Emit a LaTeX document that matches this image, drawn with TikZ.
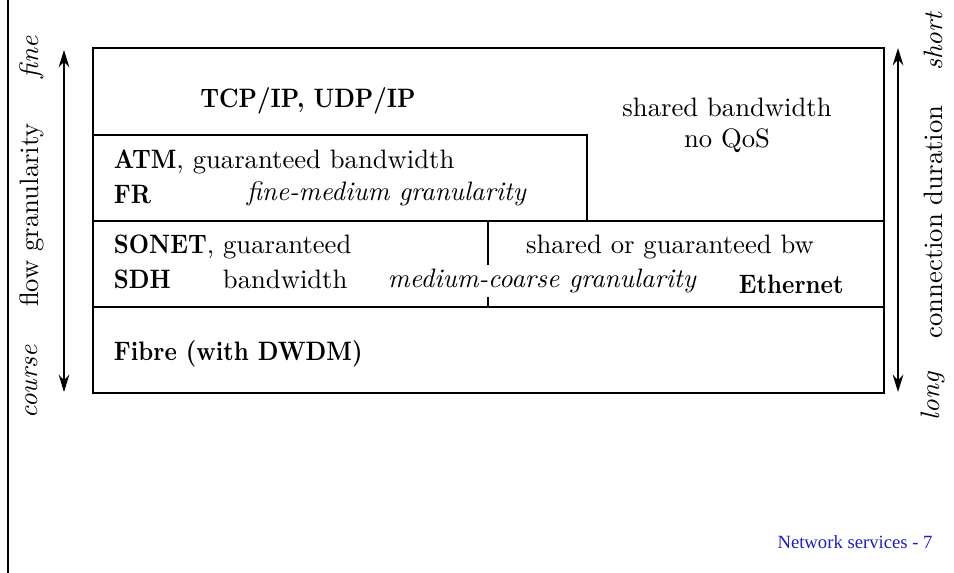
\documentclass[tikz,border=0pt]{standalone}
\usepackage{fontspec}
\usetikzlibrary{arrows.meta}
\newfontfamily\footfont{Liberation Serif}
\definecolor{footblue}{RGB}{30,30,190}
\newcommand\nb[1]{\scalebox{0.88}[1]{\textbf{#1}}}
\begin{document}
\begin{tikzpicture}[>={Stealth[length=6.5pt,width=4pt]}, x=0.375pt, y=-0.375pt, line width=0.7pt]
\tikzset{lbl/.style={anchor=west, inner sep=0pt}, side/.style={rotate=90, inner sep=0pt}}
\useasboundingbox (0,0) rectangle (954,573);
    \draw[line width=1.1pt](8,0)--(8,573);
    % layers
    \draw(93,48)rectangle(884,393);
    \draw(93,135)--(587,135)--(587,221);
    \draw(93,221)--(884,221);
    \draw(93,307)--(884,307);
    \draw(488,221)--(488,307);
    \node[inner sep=0pt](tcp) at (308,101){\nb{TCP/IP, UDP/IP}};
    \node[inner sep=0pt](shared) at (727,107){shared bandwidth};
    \node[inner sep=0pt](noqos) at (727,141){no QoS};
    \node[lbl](atm) at (113,162){\nb{ATM}, guaranteed bandwidth};
    \node[lbl](fr) at (113,194){\nb{FR}};
    \node[lbl](finemed) at (246,194){\emph{fine-medium granularity}};
    \node[lbl](sonet) at (113,247){\nb{SONET}, guaranteed};
    \node[lbl](sdh) at (113,279){\nb{SDH}};
    \node[lbl](bw) at (222,279){bandwidth};
    \node[lbl, fill=white, inner sep=1.5pt](medcoarse) at (383,281){\emph{medium-coarse granularity}};
    \node[inner sep=0pt](sharedbw) at (670,247){shared or guaranteed bw};
    \node[lbl](eth) at (738,284){\nb{Ethernet}};
    \node[lbl](fibre) at (113,354){\nb{Fibre (with DWDM)}};
    % granularity axis
    \coordinate(gtop) at (64,50);
    \coordinate(gbot) at (64,392);
    \draw[<->](gbot)--(gtop);
    \node[side](course) at (32,382){\emph{course}};
    \node[side](flow) at (32,215){flow granularity};
    \node[side](fine) at (32,57){\emph{fine}};
    % duration axis
    \coordinate(dtop) at (898,48);
    \coordinate(dbot) at (898,392);
    \draw[<->](dbot)--(dtop);
    \node[side](long) at (933,396){\emph{long}};
    \node[side](dur) at (933,222){connection duration};
    \node[side](short) at (933,41){\emph{short}};
    \node[inner sep=0pt, text=footblue, font=\footfont\fontsize{7}{8}\selectfont](foot) at (855,542){Network services - 7};
\end{tikzpicture}
\end{document}
